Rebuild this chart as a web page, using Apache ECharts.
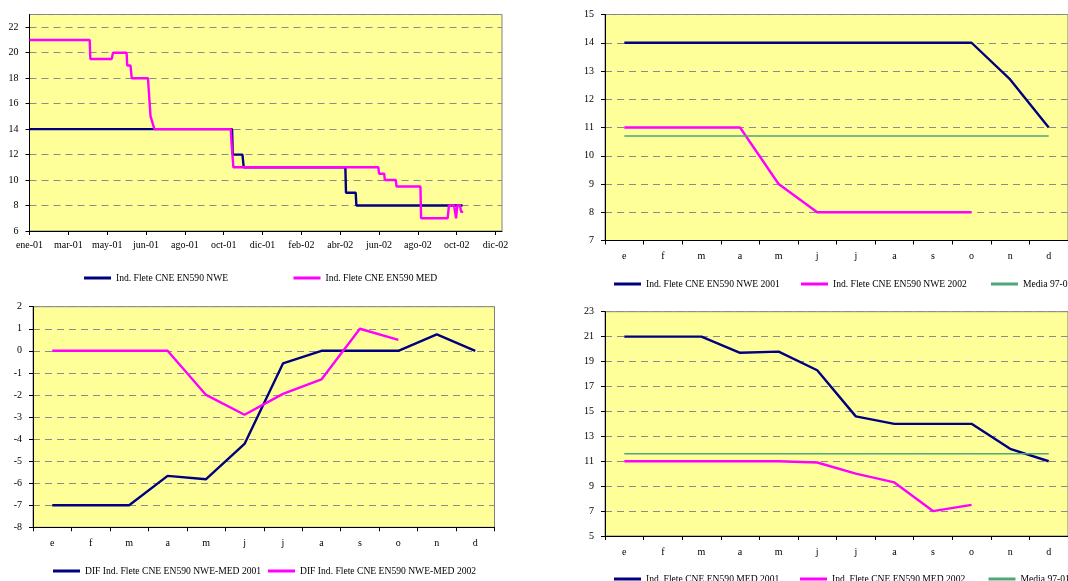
<!DOCTYPE html>
<html>
<head>
<meta charset="utf-8">
<script src="https://cdn.jsdelivr.net/npm/echarts@6/dist/echarts.min.js"></script>
<style>
  html, body { margin: 0; padding: 0; background: #ffffff; }
  #chart { width: 1068px; height: 581px; }
</style>
</head>
<body>
<div id="chart"></div>
<script>
// ---------- Panel 1: daily step series (dates, values) ----------
const nweDates = ['2001-01-01','2001-10-10','2001-10-11','2001-10-12','2001-11-10','2001-11-11','2001-11-26','2001-11-28','2002-05-04','2002-05-05','2002-05-20','2002-05-21','2002-11-01'];
const nweValues = [14, 14, 13.85, 14, 14, 12, 12, 11, 11, 9, 9, 8, 8];

const medDates = ['2001-01-01','2001-04-04','2001-04-05','2001-05-08','2001-05-10','2001-05-31','2001-06-01','2001-06-06','2001-06-08','2001-07-03','2001-07-07','2001-07-09','2001-07-13','2001-11-08','2001-11-09','2001-11-12','2002-05-21','2002-05-22','2002-05-23','2002-06-24','2002-06-25','2002-07-03','2002-07-04','2002-07-21','2002-07-22','2002-08-28','2002-08-29','2002-10-09','2002-10-11','2002-10-19','2002-10-22','2002-10-24','2002-10-28','2002-10-30','2002-11-02'];
const medValues = [21, 21, 19.5, 19.5, 20, 20, 19, 19, 18, 18, 15, 15, 14, 14, 13, 11, 11, 11.15, 11, 11, 10.5, 10.5, 10, 10, 9.5, 9.5, 7, 7, 8, 8, 7, 8, 8, 7.5, 7.5];

const monthNamesEs = ['ene','feb','mar','abr','may','jun','jul','ago','sep','oct','nov','dic'];

// ---------- Monthly panels ----------
const monthCats = ['e','f','m','a','m','j','j','a','s','o','n','d'];

const nwe2001 = [14, 14, 14, 14, 14, 14, 14, 14, 14, 14, 12.7, 11];
const nwe2002 = [11, 11, 11, 11, 9, 8, 8, 8, 8, 8];
const mediaNwe = [10.7, 10.7, 10.7, 10.7, 10.7, 10.7, 10.7, 10.7, 10.7, 10.7, 10.7, 10.7];

const dif2001 = [-7, -7, -7, -5.67, -5.82, -4.22, -0.57, 0, 0, 0, 0.75, 0];
const dif2002 = [0, 0, 0, 0, -2, -2.9, -1.95, -1.3, 1, 0.5];

const med2001 = [21, 21, 21, 19.7, 19.8, 18.3, 14.6, 14, 14, 14, 12, 11];
const med2002 = [11, 11, 11, 11, 11, 10.9, 10, 9.3, 7, 7.5];
const mediaMed = [11.6, 11.6, 11.6, 11.6, 11.6, 11.6, 11.6, 11.6, 11.6, 11.6, 11.6, 11.6];

// names
const N1a = 'Ind. Flete CNE EN590 NWE';
const N1b = 'Ind. Flete CNE EN590 MED';
const N2a = 'Ind. Flete CNE EN590 NWE 2001';
const N2b = 'Ind. Flete CNE EN590 NWE 2002';
const N3a = 'DIF Ind. Flete CNE EN590 NWE-MED 2001';
const N3b = 'DIF Ind. Flete CNE EN590 NWE-MED 2002';
const N4a = 'Ind. Flete CNE EN590 MED 2001';
const N4b = 'Ind. Flete CNE EN590 MED 2002';
const NMedia = 'Media 97-01';

// ---------- helpers ----------
const DAY0 = Date.UTC(2001, 0, 1);
function dayIndex(s) {
  const p = s.split('-').map(Number);
  return Math.round((Date.UTC(p[0], p[1] - 1, p[2]) - DAY0) / 86400000);
}
function dayLabel(v) {
  const d = new Date(DAY0 + v * 86400000);
  return monthNamesEs[d.getUTCMonth()] + '-' + String(d.getUTCFullYear()).slice(2);
}
function pairs(dates, vals) { return dates.map((d, i) => [dayIndex(d), vals[i]]); }

const NAVY = '#000080', MAG = '#FF00FF', GREEN = '#4FA77A';
const FONT = 'Liberation Serif';
function labelStyle(extra) { return Object.assign({ color: '#000000', fontFamily: FONT, fontSize: 10 }, extra); }
function gridLine() { return { show: true, lineStyle: { color: '#8c8c8c', type: [7, 5], width: 1, opacity: 1 } }; }
function axisBlack() { return { show: true, onZero: false, lineStyle: { color: '#000000', width: 1 } }; }
function tickBlack() { return { show: true, length: 4, lineStyle: { color: '#000000', width: 1 } }; }

function gridCfg(left, top, width, height) {
  return { left, top, width, height, show: true, backgroundColor: '#FFFF99', borderColor: '#808080', borderWidth: 1, containLabel: false };
}
function yAx(gi, min, max, interval) {
  return {
    type: 'value', gridIndex: gi, min, max, interval,
    axisLine: axisBlack(), axisTick: tickBlack(), splitLine: gridLine(),
    axisLabel: labelStyle({ margin: 11, showMaxLabel: (max - min) % interval === 0 })
  };
}
function catAx(gi) {
  return {
    type: 'category', gridIndex: gi, data: monthCats, boundaryGap: true,
    axisLine: axisBlack(), axisTick: tickBlack(), splitLine: { show: false },
    axisLabel: labelStyle({ margin: 11, interval: 0 })
  };
}
function lineSeries(name, gi, data, color, width) {
  return {
    name, type: 'line', xAxisIndex: gi, yAxisIndex: gi, data, color,
    showSymbol: false, symbol: 'none', animation: false,
    lineStyle: { color, width: width || 2.4 }, emphasis: { disabled: true }
  };
}
function leg(name, left, y) {
  return {
    data: [name], left, top: y - 6, padding: 0, icon: 'rect', itemWidth: 27, itemHeight: 3,
    selectedMode: false, textStyle: { color: '#000', fontFamily: FONT, fontSize: 9.6 }
  };
}

const option = {
  animation: false,
  backgroundColor: '#ffffff',
  grid: [
    gridCfg(29.5, 14.5, 472.5, 216.5),
    gridCfg(605, 14.5, 472, 226),
    gridCfg(33, 306.7, 461.5, 220.6),
    gridCfg(605, 311.7, 472, 224.3)
  ],
  xAxis: [
    {
      type: 'value', gridIndex: 0, min: 0, max: 730, interval: 60,
      axisLine: axisBlack(), axisTick: tickBlack(), splitLine: { show: false },
      axisLabel: labelStyle({ margin: 9, showMaxLabel: false, formatter: dayLabel })
    },
    catAx(1), catAx(2), catAx(3)
  ],
  yAxis: [
    yAx(0, 6, 23, 2),
    yAx(1, 7, 15, 1),
    yAx(2, -8, 2, 1),
    yAx(3, 5, 23, 2)
  ],
  legend: [
    leg(N1a, 84, 279), leg(N1b, 293.5, 279),
    leg(N2a, 614, 285), leg(N2b, 801, 285), leg(NMedia, 991, 285),
    leg(N3a, 53, 572), leg(N3b, 268, 572),
    leg(N4a, 614, 580), leg(N4b, 800, 580)
  ],
  series: [
    lineSeries(N1a, 0, pairs(nweDates, nweValues), NAVY),
    lineSeries(N1b, 0, pairs(medDates, medValues), MAG),
    lineSeries(N2a, 1, nwe2001, NAVY),
    lineSeries(N2b, 1, nwe2002, MAG),
    lineSeries(NMedia, 1, mediaNwe, GREEN, 1.6),
    lineSeries(N3a, 2, dif2001, NAVY),
    lineSeries(N3b, 2, dif2002, MAG),
    lineSeries(N4a, 3, med2001, NAVY),
    lineSeries(N4b, 3, med2002, MAG),
    lineSeries(NMedia + ' ', 3, mediaMed, GREEN, 1.6)
  ]
};
// legend for panel 4 media (series name with trailing space keeps it separate)
option.legend.push(leg(NMedia + ' ', 988.5, 580));

const chart = echarts.init(document.getElementById('chart'), null, { renderer: 'canvas' });
chart.setOption(option);
</script>
</body>
</html>
